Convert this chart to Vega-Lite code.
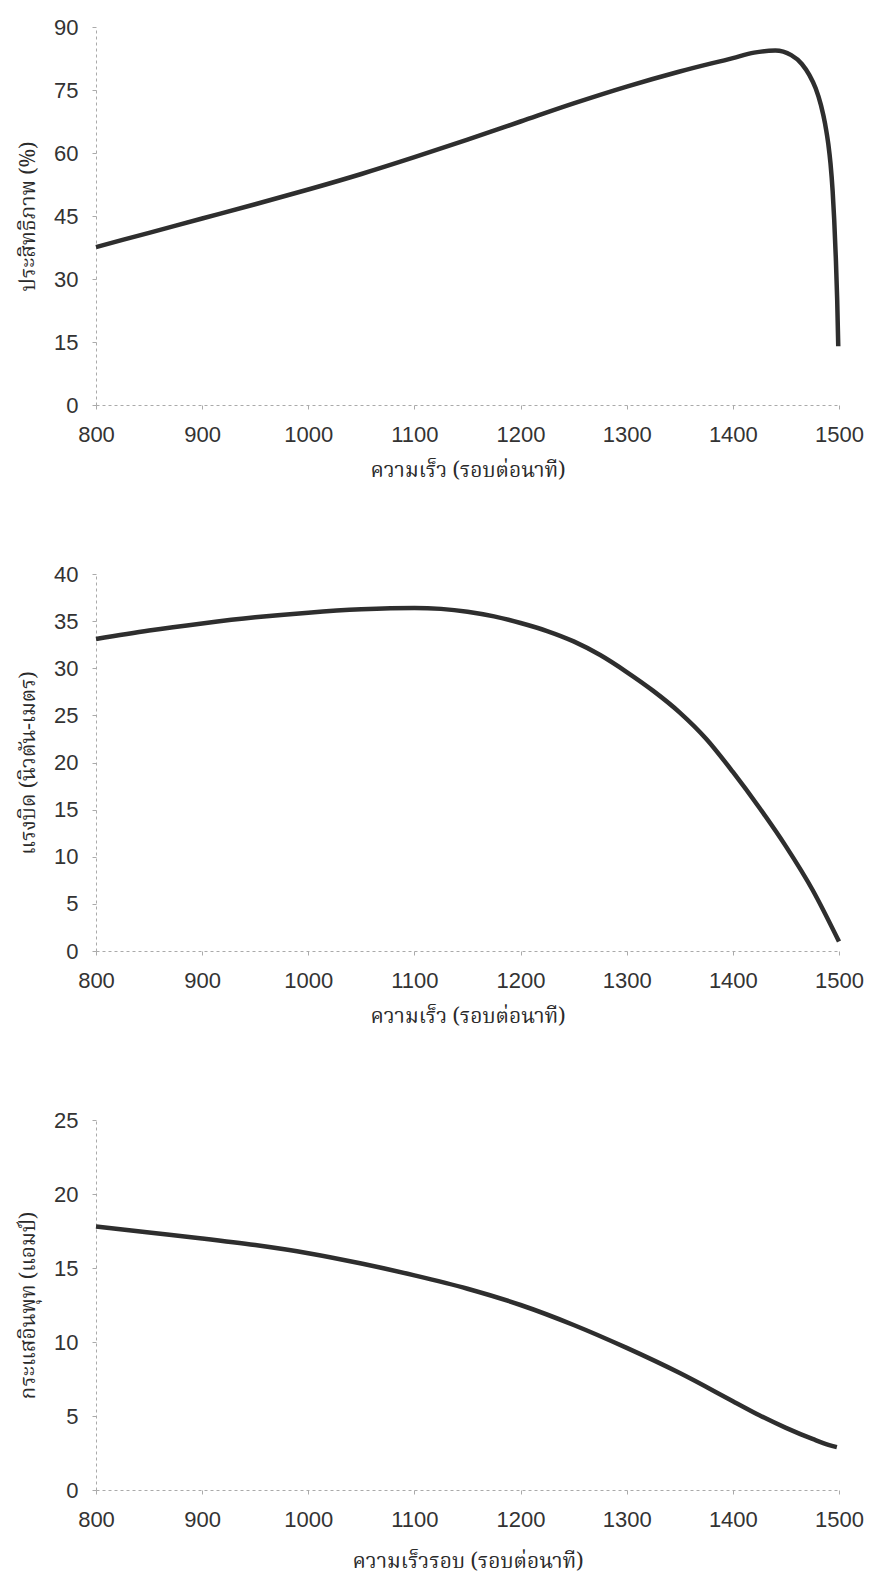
{
  "$schema": "https://vega.github.io/schema/vega-lite/v6.json",
  "background": "white",
  "padding": {"left": 17, "top": 16, "right": 0, "bottom": 9},
  "bounds": "flush",
  "spacing": 169,
  "config": {
    "view": {"stroke": null},
    "axis": {
      "grid": false,
      "labelFont": "Liberation Sans",
      "labelFontSize": 22,
      "labelColor": "#333333",
      "format": "d",
      "titleFont": "Noto Serif Thai, Noto Sans Thai, Tlwg Typo, Loma, serif",
      "titleFontSize": 21,
      "titleFontWeight": "normal",
      "titleColor": "#2a2a2a",
      "domainColor": "#aaaaaa",
      "domainDash": [3, 3],
      "domainWidth": 1,
      "tickColor": "#aaaaaa",
      "tickSize": 4
    },
    "axisY": {"labelPadding": 14, "titlePadding": 15},
    "axisX": {"labelPadding": 15, "titlePadding": 14, "labelFlush": false}
  },
  "datasets": {
    "eff": [
      {"rpm": 800, "v": 37.6}, {"rpm": 850, "v": 41.0}, {"rpm": 900, "v": 44.4},
      {"rpm": 950, "v": 47.8}, {"rpm": 1000, "v": 51.3}, {"rpm": 1050, "v": 55.0},
      {"rpm": 1100, "v": 59.0}, {"rpm": 1150, "v": 63.2}, {"rpm": 1200, "v": 67.5},
      {"rpm": 1250, "v": 71.8}, {"rpm": 1300, "v": 75.8}, {"rpm": 1350, "v": 79.4},
      {"rpm": 1400, "v": 82.6}, {"rpm": 1420, "v": 83.9}, {"rpm": 1440, "v": 84.4},
      {"rpm": 1455, "v": 83.3}, {"rpm": 1465, "v": 81.2}, {"rpm": 1472, "v": 78.6},
      {"rpm": 1478, "v": 75.4}, {"rpm": 1483, "v": 71.4}, {"rpm": 1487, "v": 66.8},
      {"rpm": 1490, "v": 62.0}, {"rpm": 1492, "v": 57.5}, {"rpm": 1494, "v": 51.0},
      {"rpm": 1495.5, "v": 44.0}, {"rpm": 1497, "v": 35.0}, {"rpm": 1498.3, "v": 25.0},
      {"rpm": 1499.3, "v": 14.0}
    ],
    "torque": [
      {"rpm": 800, "v": 33.1}, {"rpm": 850, "v": 34.0}, {"rpm": 900, "v": 34.75},
      {"rpm": 950, "v": 35.4}, {"rpm": 1000, "v": 35.9}, {"rpm": 1050, "v": 36.25},
      {"rpm": 1100, "v": 36.4}, {"rpm": 1125, "v": 36.3}, {"rpm": 1150, "v": 36.0},
      {"rpm": 1175, "v": 35.5}, {"rpm": 1200, "v": 34.8}, {"rpm": 1225, "v": 33.95},
      {"rpm": 1250, "v": 32.85}, {"rpm": 1275, "v": 31.4}, {"rpm": 1300, "v": 29.6},
      {"rpm": 1325, "v": 27.6}, {"rpm": 1350, "v": 25.3}, {"rpm": 1375, "v": 22.5},
      {"rpm": 1400, "v": 19.0}, {"rpm": 1425, "v": 15.2}, {"rpm": 1450, "v": 11.1},
      {"rpm": 1475, "v": 6.5}, {"rpm": 1500, "v": 1.0}
    ],
    "current": [
      {"rpm": 800, "v": 17.8}, {"rpm": 850, "v": 17.4}, {"rpm": 900, "v": 17.0},
      {"rpm": 950, "v": 16.55}, {"rpm": 1000, "v": 16.0}, {"rpm": 1050, "v": 15.3},
      {"rpm": 1100, "v": 14.5}, {"rpm": 1150, "v": 13.6}, {"rpm": 1200, "v": 12.5},
      {"rpm": 1250, "v": 11.15}, {"rpm": 1300, "v": 9.6}, {"rpm": 1350, "v": 7.9},
      {"rpm": 1400, "v": 6.0}, {"rpm": 1425, "v": 5.05}, {"rpm": 1450, "v": 4.2},
      {"rpm": 1475, "v": 3.45}, {"rpm": 1490, "v": 3.05}, {"rpm": 1498, "v": 2.9}
    ]
  },
  "vconcat": [
    {
      "width": 743, "height": 378,
      "data": {"name": "eff"},
      "mark": {"type": "line", "color": "#2e2e2e", "strokeWidth": 4.5, "interpolate": "monotone"},
      "encoding": {
        "x": {"field": "rpm", "type": "quantitative", "scale": {"domain": [800, 1500], "zero": false, "nice": false},
              "axis": {"values": [800, 900, 1000, 1100, 1200, 1300, 1400, 1500], "title": "ความเร็ว (รอบต่อนาที)"}},
        "y": {"field": "v", "type": "quantitative", "scale": {"domain": [0, 90], "nice": false},
              "axis": {"values": [0, 15, 30, 45, 60, 75, 90], "title": "ประสิทธิภาพ (%)"}}
      }
    },
    {
      "width": 743, "height": 377,
      "data": {"name": "torque"},
      "mark": {"type": "line", "color": "#2e2e2e", "strokeWidth": 4.5, "interpolate": "monotone"},
      "encoding": {
        "x": {"field": "rpm", "type": "quantitative", "scale": {"domain": [800, 1500], "zero": false, "nice": false},
              "axis": {"values": [800, 900, 1000, 1100, 1200, 1300, 1400, 1500], "title": "ความเร็ว (รอบต่อนาที)"}},
        "y": {"field": "v", "type": "quantitative", "scale": {"domain": [0, 40], "nice": false},
              "axis": {"values": [0, 5, 10, 15, 20, 25, 30, 35, 40], "title": "แรงบิด (นิวตัน-เมตร)"}}
      }
    },
    {
      "width": 743, "height": 370,
      "data": {"name": "current"},
      "mark": {"type": "line", "color": "#2e2e2e", "strokeWidth": 4.5, "interpolate": "monotone"},
      "encoding": {
        "x": {"field": "rpm", "type": "quantitative", "scale": {"domain": [800, 1500], "zero": false, "nice": false},
              "axis": {"values": [800, 900, 1000, 1100, 1200, 1300, 1400, 1500], "title": "ความเร็วรอบ (รอบต่อนาที)", "titlePadding": 20}},
        "y": {"field": "v", "type": "quantitative", "scale": {"domain": [0, 25], "nice": false},
              "axis": {"values": [0, 5, 10, 15, 20, 25], "title": "กระแสอินพุท (แอมป์)"}}
      }
    }
  ]
}
